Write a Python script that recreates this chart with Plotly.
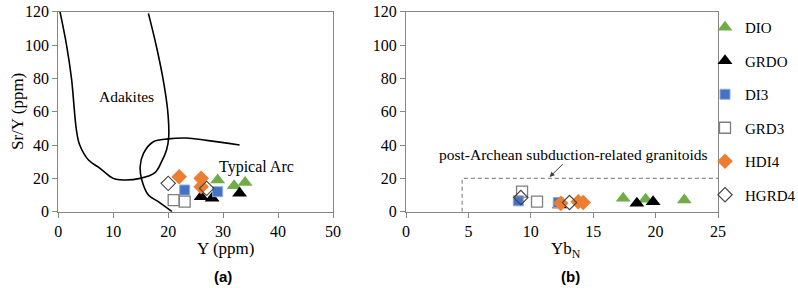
import plotly.graph_objects as go

# ---------------- data: panel (a)  Y (ppm) vs Sr/Y ----------------
series_names = ["DIO", "GRDO", "DI3", "GRD3", "HDI4", "HGRD4"]

a_x = {
    "DIO":   [29, 32, 34],
    "GRDO":  [26, 28, 33],
    "DI3":   [23, 29],
    "GRD3":  [21, 23],
    "HDI4":  [22, 26, 26],
    "HGRD4": [20, 27],
}
a_y = {
    "DIO":   [19, 15.5, 17.5],
    "GRDO":  [9, 8, 11],
    "DI3":   [13, 12],
    "GRD3":  [7, 6],
    "HDI4":  [21, 20, 15],
    "HGRD4": [17, 14],
}

# ---------------- data: panel (b)  Yb_N vs Sr/Y ----------------
b_x = {
    "DIO":   [17.4, 19.2, 22.3],
    "GRDO":  [12.3, 18.5, 19.8],
    "DI3":   [9.0, 12.2],
    "GRD3":  [9.3, 10.5],
    "HDI4":  [12.4, 13.8, 14.2],
    "HGRD4": [9.2, 13.1],
}
b_y = {
    "DIO":   [8, 7.5, 7],
    "GRDO":  [4, 5, 6],
    "DI3":   [6.5, 5.5],
    "GRD3":  [12, 6],
    "HDI4":  [5, 6, 5.5],
    "HGRD4": [8.5, 5.5],
}

# field boundaries (panel a)
adakite_x = [0.3, 1.5, 2.4, 3.3, 3.9, 5.5, 7.6, 10, 11.8, 14.9, 17.6, 18.8, 19.7, 20.1, 19.9, 19.1, 17.8, 16.4]
adakite_y = [120, 100, 80, 49, 40, 31, 26, 20, 19, 20, 23.5, 30, 37, 45, 61, 79, 100, 119]
arc_x = [20.7, 18.2, 16.4, 15.2, 14.9, 15.5, 17.3, 20, 23.3, 27, 33]
arc_y = [0, 6, 10, 19, 27, 35, 42, 43.7, 44.2, 42.8, 40]

# post-Archean field (panel b)
pa_x = [4.5, 4.5, 25]
pa_y = [0, 20, 20]

styles = {
    "DIO":   dict(symbol="triangle-up", size=13, color="#70AD47", line=dict(width=0)),
    "GRDO":  dict(symbol="triangle-up", size=13, color="#000000", line=dict(width=0)),
    "DI3":   dict(symbol="square", size=10, color="#4472C4", line=dict(width=1, color="#8FAADC")),
    "GRD3":  dict(symbol="square-open", size=11, color="#7F7F7F", line=dict(width=1.3, color="#7F7F7F")),
    "HDI4":  dict(symbol="diamond", size=12, color="#ED7D31", line=dict(width=0)),
    "HGRD4": dict(symbol="diamond-open", size=11, color="#404040", line=dict(width=1.1, color="#404040")),
}

SERIF = "Liberation Serif, Times New Roman, DejaVu Serif, serif"
SANS = "Liberation Sans, Arial, sans-serif"
AX = "#868686"

W, H = 798, 288


def px(sx):
    return sx / W


def py(sy):
    return 1 - sy / H


fig = go.Figure()

# boundary curves
fig.add_trace(go.Scatter(x=adakite_x, y=adakite_y, mode="lines", line=dict(color="black", width=1.6, shape="spline", smoothing=1.0),
                         showlegend=False, hoverinfo="skip", xaxis="x", yaxis="y"))
fig.add_trace(go.Scatter(x=arc_x, y=arc_y, mode="lines", line=dict(color="black", width=1.6, shape="spline", smoothing=1.0),
                         showlegend=False, hoverinfo="skip", xaxis="x", yaxis="y"))
fig.add_trace(go.Scatter(x=pa_x, y=pa_y, mode="lines", line=dict(color="#8C8C8C", width=1.2, dash="4px,3px"),
                         showlegend=False, hoverinfo="skip", xaxis="x2", yaxis="y2"))

for name in series_names:
    fig.add_trace(go.Scatter(x=a_x[name], y=a_y[name], mode="markers", name=name, marker=styles[name],
                             legendgroup=name, showlegend=True, xaxis="x", yaxis="y"))
for name in series_names:
    fig.add_trace(go.Scatter(x=b_x[name], y=b_y[name], mode="markers", name=name, marker=styles[name],
                             legendgroup=name, showlegend=False, xaxis="x2", yaxis="y2"))

axis_common = dict(showline=True, mirror=True, linecolor=AX, linewidth=1, ticks="outside", ticklen=5,
                   tickcolor=AX, showgrid=False, zeroline=False, automargin=False, ticklabeloverflow="allow",
                   tickfont=dict(family=SERIF, size=16, color="black"))

fig.update_layout(
    width=W, height=H,
    margin=dict(l=0, r=0, t=0, b=0, autoexpand=False),
    paper_bgcolor="white", plot_bgcolor="white",
    font=dict(family=SERIF, size=15, color="black"),
    xaxis=dict(domain=[px(58.3), px(333)], range=[0, 50], dtick=10, anchor="y", **axis_common),
    yaxis=dict(domain=[py(211.7), py(11.7)], range=[0, 120], dtick=20, anchor="x", **axis_common),
    xaxis2=dict(domain=[px(406), px(718)], range=[0, 25], dtick=5, anchor="y2", **axis_common),
    yaxis2=dict(domain=[py(211.7), py(11.7)], range=[0, 120], dtick=20, anchor="x2", **axis_common),
    legend=dict(x=px(705), y=py(11), xanchor="left", yanchor="top", bgcolor="rgba(0,0,0,0)",
                font=dict(family=SERIF, size=15, color="black"), tracegroupgap=11, itemwidth=30),
    showlegend=True,
)

center = dict(xref="paper", yref="paper", showarrow=False, xanchor="center", yanchor="middle")
ann = [
    dict(text="Adakites", x=12.5, y=69, xref="x", yref="y", showarrow=False, font=dict(family=SERIF, size=15.5)),
    dict(text="Typical Arc", x=36, y=27, xref="x", yref="y", showarrow=False, font=dict(family=SERIF, size=16)),
    dict(text="post-Archean subduction-related granitoids", x=11.5, y=20.8, xref="x2", yref="y2",
         ax=13.4, ay=34.5, axref="x2", ayref="y2",
         showarrow=True, arrowhead=2, arrowsize=1, arrowwidth=1, arrowcolor="#404040",
         font=dict(family=SERIF, size=15.5)),
    dict(text="Y (ppm)", x=px(225), y=py(248), font=dict(family=SERIF, size=17), **center),
    dict(text="Sr/Y (ppm)", x=px(18), y=py(112), textangle=-90, font=dict(family=SERIF, size=17), **center),
    dict(text="Yb<sub>N</sub>", x=px(566), y=py(250), font=dict(family=SERIF, size=17), **center),
    dict(text="<b>(a)</b>", x=px(223), y=py(276.5), font=dict(family=SANS, size=15), **center),
    dict(text="<b>(b)</b>", x=px(570), y=py(276.5), font=dict(family=SANS, size=15), **center),
]
fig.update_layout(annotations=ann)

# remove the default 8px page margin so the figure sits at the window origin
fig.write_html("out.html", config={"displayModeBar": False},
               post_script="document.body.style.margin='0';")
